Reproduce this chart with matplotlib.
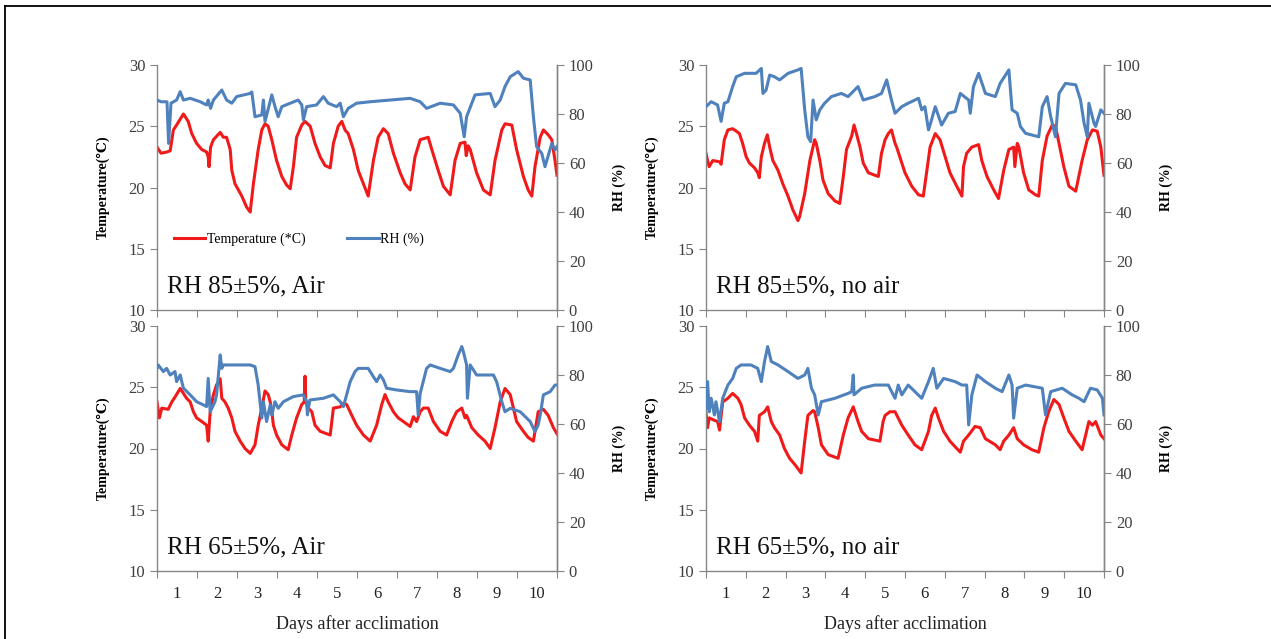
import numpy as np
import matplotlib
matplotlib.use("Agg")
import matplotlib.pyplot as plt
from matplotlib.lines import Line2D

plt.rcParams['font.family'] = ['Liberation Serif', 'DejaVu Serif', 'DejaVu Sans']

# ---- data (days after acclimation, value) ----
day_labels = [str(d) for d in range(1, 11)]

# RH 85 +/- 5 %, Air
t_temp_85_air = [0, 0.1, 0.25, 0.33, 0.41, 0.49, 0.66, 0.78, 0.87, 0.99, 1.12, 1.24, 1.28, 1.30, 1.34, 1.41,
                 1.58, 1.66, 1.74, 1.83, 1.87, 1.95, 2.12, 2.24, 2.33, 2.41, 2.53, 2.62, 2.70, 2.78, 2.87,
                 2.99, 3.12, 3.24, 3.33, 3.41, 3.49, 3.62, 3.70, 3.83, 3.95, 4.08, 4.20, 4.33, 4.41, 4.53,
                 4.62, 4.70, 4.78, 4.91, 5.03, 5.16, 5.28, 5.41, 5.53, 5.66, 5.78, 5.91, 6.08, 6.20, 6.33,
                 6.45, 6.58, 6.78, 6.87, 7.03, 7.16, 7.33, 7.45, 7.58, 7.70, 7.73, 7.78, 7.83, 7.99, 8.16,
                 8.33, 8.45, 8.62, 8.70, 8.87, 8.99, 9.16, 9.28, 9.37, 9.45, 9.58, 9.66, 9.78, 9.87, 9.95, 10]
temp_85_air = [23.3, 22.8, 22.9, 23.0, 24.7, 25.1, 26.0, 25.4, 24.4, 23.6, 23.1, 22.9, 22.5, 21.7, 23.3, 23.9,
               24.5, 24.1, 24.1, 23.1, 21.4, 20.3, 19.3, 18.4, 18.0, 20.3, 23.1, 24.7, 25.2, 25.0, 23.9,
               22.2, 20.9, 20.2, 19.9, 21.7, 24.1, 25.1, 25.4, 25.0, 23.6, 22.5, 21.8, 21.6, 23.6, 25.0,
               25.4, 24.7, 24.4, 23.1, 21.4, 20.3, 19.3, 22.2, 24.1, 24.8, 24.4, 22.8, 21.2, 20.3, 19.8,
               22.5, 23.9, 24.1, 23.1, 21.4, 20.1, 19.4, 22.2, 23.6, 23.7, 22.6, 23.4, 23.1, 21.2, 19.8,
               19.4, 22.2, 24.7, 25.2, 25.1, 23.1, 20.9, 19.8, 19.3, 21.7, 24.1, 24.7, 24.3, 23.9, 22.2, 21.0]
t_rh_85_air = [0, 0.1, 0.25, 0.29, 0.35, 0.49, 0.58, 0.66, 0.83, 1.08, 1.24, 1.28, 1.34, 1.41, 1.62, 1.74,
               1.87, 1.99, 2.33, 2.37, 2.45, 2.62, 2.66, 2.70, 2.87, 2.95, 3.03, 3.12, 3.33, 3.53, 3.62,
               3.66, 3.74, 3.99, 4.16, 4.28, 4.49, 4.58, 4.66, 4.78, 4.99, 5.33, 5.83, 6.33, 6.58, 6.74,
               7.08, 7.41, 7.58, 7.68, 7.74, 7.95, 8.33, 8.45, 8.58, 8.70, 8.83, 9.03, 9.16, 9.33, 9.41,
               9.49, 9.62, 9.70, 9.87, 9.95, 10]
rh_85_air = [85.7, 85.0, 85.0, 68.0, 84.4, 85.7, 89.1, 85.7, 86.4, 85.0, 83.7, 85.7, 82.3, 85.7, 89.8, 85.7,
             84.4, 87.1, 88.4, 89.0, 78.9, 79.6, 85.7, 76.9, 87.8, 83.0, 78.9, 83.0, 84.4, 85.7, 83.7,
             77.6, 83.0, 83.7, 87.1, 84.4, 83.0, 84.4, 78.9, 82.3, 84.4, 85.0, 85.7, 86.4, 85.0, 82.3,
             84.4, 83.7, 80.3, 70.7, 78.9, 87.8, 88.4, 83.0, 85.7, 91.2, 95.2, 97.3, 94.6, 93.9, 78.9,
             66.7, 63.9, 58.5, 68.0, 65.3, 66.7]

# RH 85 +/- 5 %, no air
t_temp_85_noair = [0, 0.04, 0.08, 0.17, 0.34, 0.38, 0.46, 0.55, 0.67, 0.76, 0.84, 0.92, 1.01, 1.09, 1.22, 1.30,
                   1.34, 1.39, 1.47, 1.54, 1.60, 1.68, 1.81, 1.93, 2.06, 2.18, 2.31, 2.35, 2.48, 2.61, 2.73,
                   2.77, 2.86, 2.94, 3.07, 3.24, 3.36, 3.45, 3.53, 3.66, 3.72, 3.78, 3.87, 3.95, 4.08, 4.33,
                   4.41, 4.50, 4.58, 4.66, 4.75, 4.79, 4.87, 5.00, 5.17, 5.34, 5.46, 5.55, 5.63, 5.76, 5.88,
                   6.01, 6.13, 6.30, 6.43, 6.47, 6.55, 6.68, 6.85, 6.93, 7.06, 7.23, 7.35, 7.48, 7.61, 7.73,
                   7.76, 7.82, 7.86, 7.98, 8.11, 8.28, 8.36, 8.45, 8.57, 8.70, 8.78, 8.87, 8.99, 9.12, 9.29,
                   9.45, 9.58, 9.71, 9.83, 9.92, 10]
temp_85_noair = [22.8, 22.2, 21.7, 22.2, 22.1, 21.9, 23.9, 24.7, 24.8, 24.6, 24.4, 23.6, 22.5, 22.0, 21.6, 21.2,
                 20.8, 22.5, 23.6, 24.3, 23.3, 22.2, 21.4, 20.3, 19.3, 18.2, 17.3, 17.6, 19.5, 22.2, 23.9,
                 23.6, 22.2, 20.6, 19.5, 18.9, 18.7, 20.9, 23.1, 24.2, 25.1, 24.4, 23.3, 22.0, 21.2, 20.9,
                 22.8, 23.9, 24.4, 24.7, 23.6, 23.3, 22.5, 21.2, 20.1, 19.4, 19.3, 21.4, 23.3, 24.4, 23.9,
                 22.5, 21.2, 20.1, 19.3, 21.7, 22.8, 23.3, 23.5, 22.2, 20.9, 19.8, 19.1, 21.4, 23.1, 23.3,
                 21.7, 23.6, 23.3, 21.2, 19.8, 19.4, 19.3, 22.2, 24.2, 25.1, 25.0, 23.6, 21.7, 20.1, 19.7,
                 22.2, 23.9, 24.7, 24.6, 23.3, 21.0]
t_rh_85_noair = [0, 0.13, 0.29, 0.38, 0.46, 0.55, 0.67, 0.76, 0.97, 1.26, 1.39, 1.43, 1.51, 1.60, 1.72, 1.85,
                 2.06, 2.31, 2.39, 2.48, 2.56, 2.63, 2.69, 2.77, 2.86, 2.98, 3.15, 3.40, 3.57, 3.82, 3.95,
                 4.24, 4.41, 4.54, 4.66, 4.75, 4.92, 5.08, 5.34, 5.42, 5.50, 5.59, 5.63, 5.76, 5.92, 6.09,
                 6.26, 6.39, 6.60, 6.64, 6.72, 6.85, 7.02, 7.27, 7.39, 7.61, 7.69, 7.82, 7.90, 8.03, 8.36,
                 8.45, 8.57, 8.66, 8.78, 8.87, 9.03, 9.29, 9.41, 9.50, 9.58, 9.62, 9.75, 9.79, 9.92, 10]
rh_85_noair = [83.0, 85.0, 83.7, 77.0, 84.4, 85.0, 91.2, 95.2, 96.6, 96.6, 98.6, 88.4, 89.8, 95.9, 95.2, 93.9,
               96.6, 98.0, 98.6, 81.7, 70.7, 68.7, 85.7, 77.6, 81.7, 84.4, 87.1, 88.4, 87.1, 91.2, 85.7,
               87.1, 88.4, 93.9, 85.7, 80.3, 83.0, 84.4, 86.4, 81.7, 83.0, 73.5, 75.5, 83.0, 75.5, 80.3,
               81.0, 88.4, 85.7, 80.3, 91.2, 96.6, 88.4, 87.1, 92.5, 98.0, 81.7, 80.3, 74.9, 72.1, 70.7,
               83.0, 87.1, 79.0, 70.7, 88.4, 92.5, 91.9, 85.7, 76.2, 70.7, 84.4, 76.2, 74.9, 81.7, 80.3]

# RH 65 +/- 5 %, Air
t_temp_65_air = [0, 0.06, 0.12, 0.28, 0.37, 0.45, 0.58, 0.66, 0.74, 0.83, 0.91, 0.99, 1.12, 1.24, 1.28, 1.33,
                 1.41, 1.49, 1.58, 1.62, 1.70, 1.78, 1.87, 1.95, 2.08, 2.20, 2.33, 2.45, 2.53, 2.62, 2.70,
                 2.78, 2.83, 2.87, 2.91, 2.99, 3.12, 3.28, 3.37, 3.49, 3.62, 3.68, 3.70, 3.72, 3.78, 3.87,
                 3.95, 4.08, 4.33, 4.41, 4.58, 4.66, 4.74, 4.87, 4.99, 5.16, 5.33, 5.49, 5.62, 5.70, 5.78,
                 5.91, 6.03, 6.16, 6.33, 6.41, 6.49, 6.58, 6.66, 6.78, 6.91, 7.08, 7.24, 7.37, 7.49, 7.62,
                 7.70, 7.74, 7.87, 8.03, 8.20, 8.33, 8.45, 8.58, 8.70, 8.83, 8.91, 8.99, 9.16, 9.28, 9.41,
                 9.53, 9.66, 9.78, 9.91, 10]
temp_65_air = [23.8, 22.5, 23.3, 23.2, 23.8, 24.2, 24.9, 24.5, 24.1, 23.8, 23.0, 22.5, 22.2, 21.9, 20.6, 23.0,
               24.4, 25.2, 25.7, 24.1, 23.8, 23.3, 22.5, 21.4, 20.6, 20.0, 19.6, 20.3, 21.9, 23.3, 24.7,
               24.4, 23.8, 23.0, 21.9, 21.1, 20.3, 19.9, 21.1, 22.5, 23.6, 23.8, 25.9, 23.8, 23.3, 23.0,
               21.9, 21.4, 21.1, 23.3, 23.4, 23.7, 23.6, 22.7, 21.9, 21.1, 20.6, 21.9, 23.6, 24.4, 23.8,
               23.0, 22.5, 22.2, 21.8, 22.6, 22.2, 23.0, 23.3, 23.3, 22.2, 21.4, 21.1, 22.2, 23.0, 23.3,
               22.5, 22.7, 21.7, 21.1, 20.6, 20.0, 21.7, 23.8, 24.9, 24.4, 23.3, 22.2, 21.4, 20.9, 20.6,
               23.0, 23.2, 22.7, 21.7, 21.2]
t_rh_65_air = [0, 0.03, 0.16, 0.24, 0.33, 0.45, 0.49, 0.58, 0.66, 0.83, 0.99, 1.16, 1.24, 1.28, 1.33, 1.45,
               1.49, 1.58, 1.62, 1.66, 1.99, 2.33, 2.45, 2.53, 2.62, 2.66, 2.74, 2.83, 2.87, 2.95, 3.03,
               3.16, 3.41, 3.66, 3.74, 3.76, 3.82, 4.16, 4.41, 4.58, 4.66, 4.74, 4.83, 4.95, 5.03, 5.28,
               5.33, 5.41, 5.49, 5.58, 5.66, 5.74, 5.99, 6.33, 6.49, 6.53, 6.58, 6.74, 6.83, 7.08, 7.33,
               7.41, 7.53, 7.62, 7.66, 7.74, 7.76, 7.83, 7.99, 8.41, 8.49, 8.62, 8.70, 8.83, 9.08, 9.33,
               9.45, 9.53, 9.58, 9.66, 9.83, 9.95, 10]
rh_65_air = [82.7, 84.1, 81.4, 82.7, 80.0, 81.4, 77.3, 80.0, 74.6, 71.9, 69.1, 67.8, 67.1, 78.6, 65.0, 69.1,
             71.9, 88.2, 82.7, 84.1, 84.1, 84.1, 83.4, 75.9, 62.4, 69.1, 61.0, 67.8, 63.7, 69.1, 66.4,
             69.1, 71.2, 71.9, 69.1, 63.7, 69.8, 70.5, 71.9, 69.1, 67.1, 71.9, 77.3, 81.4, 82.7, 82.7,
             81.4, 79.3, 77.3, 80.0, 78.0, 74.6, 73.9, 73.2, 73.2, 63.7, 72.5, 82.7, 84.1, 82.7, 81.4,
             82.7, 88.2, 91.6, 89.5, 84.1, 70.5, 84.1, 80.0, 80.0, 77.3, 69.1, 65.0, 66.4, 65.0, 61.0,
             56.9, 59.6, 63.7, 71.9, 73.2, 75.9, 75.9]

# RH 65 +/- 5 %, no air
t_temp_65_noair = [0, 0.04, 0.08, 0.21, 0.29, 0.34, 0.42, 0.55, 0.67, 0.80, 0.88, 0.97, 1.09, 1.22, 1.30, 1.34,
                   1.47, 1.55, 1.64, 1.72, 1.85, 1.97, 2.10, 2.23, 2.39, 2.48, 2.56, 2.69, 2.73, 2.82, 2.90,
                   3.07, 3.32, 3.45, 3.57, 3.70, 3.82, 3.91, 4.08, 4.37, 4.45, 4.50, 4.62, 4.75, 4.92, 5.08,
                   5.25, 5.42, 5.59, 5.67, 5.76, 5.84, 5.97, 6.13, 6.30, 6.39, 6.47, 6.60, 6.76, 6.89, 7.02,
                   7.27, 7.39, 7.48, 7.61, 7.73, 7.82, 7.98, 8.19, 8.36, 8.49, 8.61, 8.74, 8.87, 8.99, 9.12,
                   9.29, 9.45, 9.54, 9.62, 9.71, 9.79, 9.92, 10]
temp_65_noair = [22.9, 21.7, 22.5, 22.3, 22.2, 21.5, 23.8, 24.1, 24.5, 24.1, 23.6, 22.5, 21.9, 21.4, 20.6, 22.7,
                 23.0, 23.4, 22.2, 21.7, 21.1, 20.0, 19.2, 18.7, 18.0, 20.6, 22.7, 23.1, 23.0, 21.7, 20.3,
                 19.5, 19.2, 21.1, 22.5, 23.4, 22.2, 21.4, 20.8, 20.6, 22.2, 22.7, 23.0, 23.0, 21.9, 21.1,
                 20.3, 19.9, 21.4, 22.7, 23.3, 22.5, 21.4, 20.6, 20.0, 19.7, 20.6, 21.1, 21.8, 21.7, 20.8,
                 20.3, 19.9, 20.6, 21.1, 21.7, 20.8, 20.3, 19.9, 19.7, 21.7, 23.0, 24.0, 23.6, 22.5, 21.4,
                 20.6, 19.9, 21.1, 22.2, 21.9, 22.2, 21.1, 20.8]
t_rh_65_noair = [0, 0.04, 0.08, 0.13, 0.21, 0.25, 0.34, 0.42, 0.55, 0.67, 0.76, 0.88, 1.13, 1.30, 1.39, 1.47,
                 1.55, 1.64, 1.81, 2.06, 2.31, 2.48, 2.56, 2.65, 2.73, 2.82, 2.90, 3.24, 3.57, 3.66, 3.70,
                 3.72, 3.91, 4.24, 4.58, 4.75, 4.83, 4.92, 5.08, 5.25, 5.42, 5.59, 5.71, 5.80, 5.97, 6.26,
                 6.43, 6.55, 6.60, 6.68, 6.81, 7.02, 7.27, 7.44, 7.61, 7.69, 7.73, 7.82, 8.03, 8.45, 8.53,
                 8.66, 8.95, 9.20, 9.37, 9.50, 9.66, 9.83, 9.96, 10]
rh_65_noair = [66.4, 77.3, 65.0, 70.5, 63.7, 69.1, 61.0, 70.5, 75.9, 78.6, 82.7, 84.1, 84.1, 82.7, 77.3, 85.5,
               91.6, 85.5, 84.1, 81.4, 78.6, 80.0, 82.7, 74.6, 71.9, 63.7, 69.1, 70.5, 72.5, 73.2, 80.0,
               71.9, 74.6, 75.9, 75.9, 70.5, 75.9, 71.9, 75.9, 73.2, 70.5, 77.3, 82.7, 74.6, 78.6, 77.3,
               75.9, 75.9, 59.6, 71.9, 80.0, 77.3, 74.6, 73.2, 80.0, 75.9, 62.4, 74.6, 75.9, 74.6, 63.7,
               73.2, 74.6, 71.9, 70.5, 69.1, 74.6, 73.9, 70.5, 63.7]

panel_titles = ["RH 85\u00b15%, Air", "RH 85\u00b15%, no air", "RH 65\u00b15%, Air", "RH 65\u00b15%, no air"]

RED = '#f01a1a'
BLUE = '#4f81bd'
GRID = '#868686'
TXT = '#404040'


def draw_panel(ax, t_temp, temp, t_rh, rh, title, bottom, legend=False):
    ax.plot(t_temp, temp, color=RED, lw=2.2, label='Temperature (*C)')
    ax.set_xlim(0, 10)
    ax.set_ylim(10, 30)
    ax.set_yticks([10, 15, 20, 25, 30])
    ax.set_xticks(np.arange(0, 11))
    ax.set_xticklabels([])
    ax.set_xticks(np.arange(0.5, 10), minor=True)
    if bottom:
        ax.set_xticklabels(day_labels, minor=True, fontsize=12, color='#222222')
        ax.set_xlabel('Days after acclimation', fontsize=13, color='#222222', labelpad=9)
    ax.tick_params(axis='x', which='minor', length=0, pad=11)
    ax.tick_params(axis='x', which='major', length=5, color=GRID, direction='out')
    ax.tick_params(axis='y', length=5, color=GRID, labelsize=12, labelcolor=TXT)
    ax.spines['top'].set_visible(False)
    for s in ['left', 'bottom', 'right']:
        ax.spines[s].set_color(GRID)
        ax.spines[s].set_linewidth(1.0)
    ax.set_ylabel('Temperature(\u2103)', fontsize=10, fontweight='bold')
    ax.yaxis.set_label_coords(-0.118, 0.5)

    ax2 = ax.twinx()
    ax2.plot(t_rh, rh, color=BLUE, lw=2.2, label='RH (%)')
    ax2.set_ylim(0, 100)
    ax2.set_yticks([0, 20, 40, 60, 80, 100])
    ax2.tick_params(axis='y', length=5, color=GRID, labelsize=12, labelcolor=TXT)
    ax2.spines['top'].set_visible(False)
    ax2.spines['left'].set_visible(False)
    ax2.spines['bottom'].set_visible(False)
    ax2.spines['right'].set_color(GRID)
    ax2.spines['right'].set_linewidth(1.0)
    ax2.set_ylabel('RH (%)', fontsize=10, fontweight='bold')
    ax2.yaxis.set_label_coords(1.14, 0.5)

    ax2.text(0.025, 0.095, title, transform=ax.transAxes, fontsize=18,
             va='center', ha='left', color='#111111')

    if legend:
        h1, l1 = ax.get_legend_handles_labels()
        h2, l2 = ax2.get_legend_handles_labels()
        ax2.legend(h1 + h2, l1 + l2, loc='center left', bbox_to_anchor=(0.01, 0.29),
                   ncol=2, frameon=False, fontsize=10, handlelength=2.3,
                   handletextpad=0.1, columnspacing=3.0)


fig = plt.figure(figsize=(12.71, 6.39), dpi=100)

W, H = 1271, 639
lx, lw_ = 157 / W, 400 / W
rx, rw = 706 / W, 398 / W
ph = 245 / H
top_y = 1 - 310 / H
bot_y = 1 - 571 / H

ax_tl = fig.add_axes([lx, top_y, lw_, ph])
ax_tr = fig.add_axes([rx, top_y, rw, ph])
ax_bl = fig.add_axes([lx, bot_y, lw_, ph])
ax_br = fig.add_axes([rx, bot_y, rw, ph])

draw_panel(ax_tl, t_temp_85_air, temp_85_air, t_rh_85_air, rh_85_air, panel_titles[0], False, legend=True)
draw_panel(ax_tr, t_temp_85_noair, temp_85_noair, t_rh_85_noair, rh_85_noair, panel_titles[1], False)
draw_panel(ax_bl, t_temp_65_air, temp_65_air, t_rh_65_air, rh_65_air, panel_titles[2], True)
draw_panel(ax_br, t_temp_65_noair, temp_65_noair, t_rh_65_noair, rh_65_noair, panel_titles[3], True)

# thin frame along the top and left edge of the image
fig.add_artist(Line2D([5 / W, 5 / W], [0, 1 - 6 / H], transform=fig.transFigure, color='black', lw=1.3))
fig.add_artist(Line2D([5 / W, 1], [1 - 6 / H, 1 - 6 / H], transform=fig.transFigure, color='black', lw=1.3))

fig.savefig('out.png', dpi=100)
